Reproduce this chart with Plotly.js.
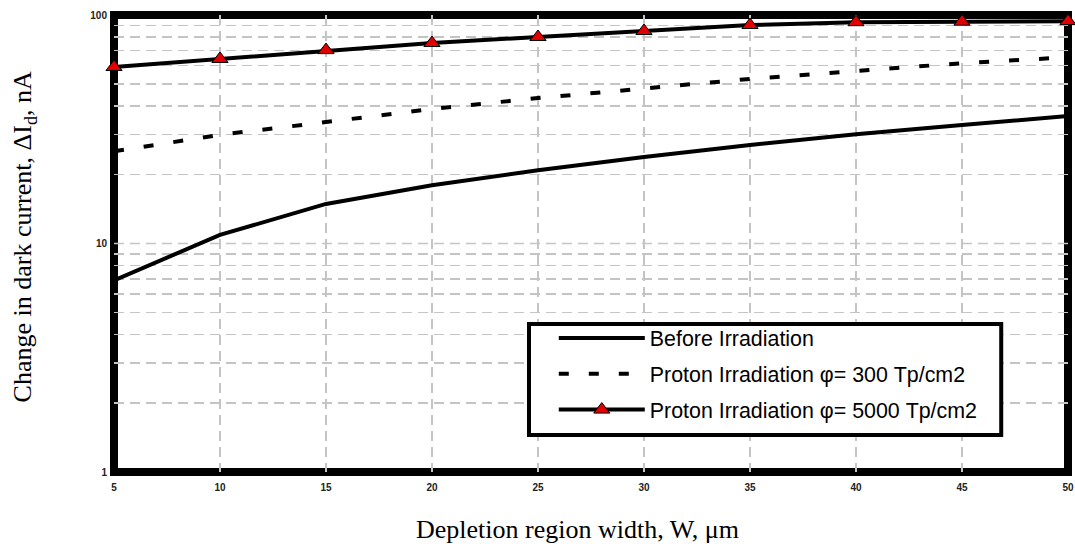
<!DOCTYPE html>
<html>
<head>
<meta charset="utf-8">
<script src="https://cdn.plot.ly/plotly-3.0.1.min.js"></script>
<style>html,body{margin:0;padding:0;background:#fff;}#chart{width:1075px;height:549px;}</style>
</head>
<body>
<div id="chart"></div>
<script>
const widthW = [5, 10, 15, 20, 25, 30, 35, 40, 45, 50];
const beforeIrr = [6.9, 10.9, 14.9, 18.0, 20.9, 23.9, 27.0, 30.1, 33.0, 36.1];
const proton300 = [25.3, 29.9, 34.0, 38.8, 43.3, 47.9, 52.5, 56.9, 61.5, 65.3];
const proton5000 = [59.2, 64.2, 70.2, 75.4, 80.1, 85.1, 90.4, 93.0, 93.5, 94.0];
const seriesNames = ['Before Irradiation', 'Proton Irradiation \u03c6= 300 Tp/cm2', 'Proton Irradiation \u03c6= 5000 Tp/cm2'];
const xTicks = [5, 10, 15, 20, 25, 30, 35, 40, 45, 50];
const yTicks = [1, 10, 100];
const xTitle = 'Depletion region width, W, \u03bcm';
const yTitle = 'Change in dark current, \u0394I<sub>d</sub>, nA';

const gridStyle = {gridcolor: '#c4c4c4', griddash: '10px,6px', gridwidth: 1.5};

const traces = [
  {x: widthW, y: beforeIrr, name: seriesNames[0], mode: 'lines', legendgroup: 'a',
   line: {color: '#000', width: 4}},
  {x: widthW, y: proton300, name: seriesNames[1], mode: 'lines', legendgroup: 'b',
   line: {color: '#000', width: 4, dash: '10px,20px'}},
  {x: widthW, y: proton5000, name: seriesNames[2], mode: 'lines+markers', legendgroup: 'c',
   line: {color: '#000', width: 4},
   marker: {symbol: 'triangle-up', size: 14, color: '#e00000', line: {color: '#000', width: 1}},
   cliponaxis: false}
];

const serif = 'Liberation Serif, Times New Roman, serif';
const sans = 'Liberation Sans, Arial, sans-serif';

const layout = {
  width: 1075, height: 549,
  margin: {l: 114, r: 7, t: 15, b: 77},
  paper_bgcolor: '#fff', plot_bgcolor: '#fff',
  showlegend: true,
  font: {family: sans, color: '#000'},
  xaxis: Object.assign({
    range: [5, 50], tickvals: xTicks, ticktext: xTicks.map(String),
    showgrid: true, zeroline: false, showline: false, ticks: '',
    tickfont: {size: 10, family: sans, color: '#222', weight: 'bold'},
    ticklabelstandoff: 8
  }, gridStyle),
  yaxis: {
    type: 'log', range: [0, 2], tickvals: yTicks, ticktext: yTicks.map(String),
    showgrid: false,
    minor: Object.assign({showgrid: true, dtick: 'D1', ticks: ''}, gridStyle),
    zeroline: false, showline: false, ticks: '',
    tickfont: {size: 10, family: sans, color: '#222', weight: 'bold'},
    ticklabelstandoff: 6
  },
  legend: {
    x: 0.461, y: 0.338, xanchor: 'left', yanchor: 'top',
    bgcolor: 'rgba(0,0,0,0)', borderwidth: 0,
    font: {size: 21.4, family: sans, color: '#000'},
    traceorder: 'grouped', tracegroupgap: 5, itemwidth: 86
  },
  annotations: [
    {text: xTitle, xref: 'paper', yref: 'paper', x: 0.486, y: -0.126, xanchor: 'center', yanchor: 'middle',
     showarrow: false, font: {family: serif, size: 26, color: '#000'}},
    {text: yTitle, xref: 'paper', yref: 'paper', x: -0.094, y: 0.514, xanchor: 'center', yanchor: 'middle',
     textangle: -90, showarrow: false, font: {family: serif, size: 26, color: '#000'}}
  ],
  shapes: [
    {type: 'rect', xref: 'paper', yref: 'paper', x0: 0, x1: 1, y0: 0, y1: 1,
     line: {color: '#000', width: 8}, layer: 'between'},
    {type: 'line', xref: 'paper', yref: 'y', x0: 0, x1: 1, y0: 10, y1: 10,
     line: {color: '#c4c4c4', width: 1.5, dash: '10px,6px'}, layer: 'between'},
    {type: 'rect', xref: 'paper', yref: 'paper', x0: 0.435, x1: 0.930, y0: 0.081, y1: 0.324,
     fillcolor: '#fff', line: {color: '#000', width: 4}, layer: 'above'}
  ]
};

Plotly.newPlot('chart', traces, layout, {displayModeBar: false, staticPlot: true});
</script>
</body>
</html>
